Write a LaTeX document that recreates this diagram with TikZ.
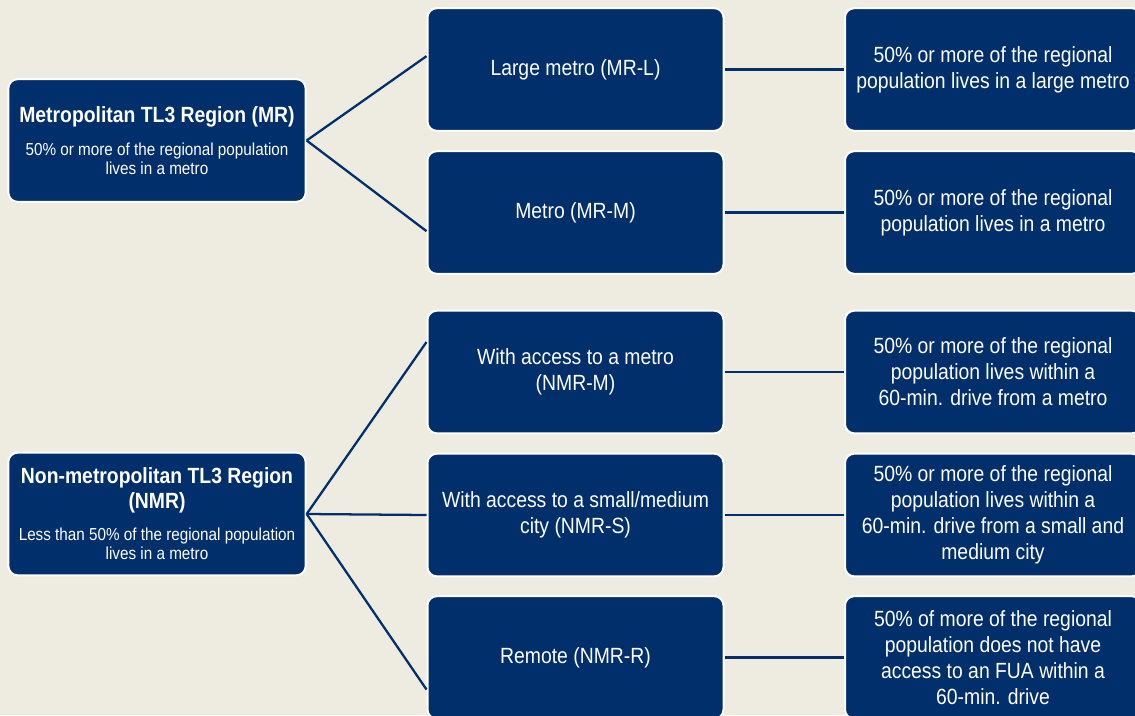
\documentclass[tikz,border=0pt]{standalone}
\usepackage{fontspec}
\setmainfont{Liberation Sans}[FakeStretch=0.88]
\usepackage{tikz}
\usetikzlibrary{positioning}
\definecolor{regionNavy}{RGB}{0,47,108}
\definecolor{paperBg}{RGB}{238,236,225}
\tikzstyle{regionNode}=[draw=white, fill=regionNavy, text=white, rounded corners=7pt, line width=1.5pt, minimum width=222pt, minimum height=92pt, align=center, inner sep=2pt]
\tikzstyle{typeNode}=[regionNode, font=\fontsize{16.5}{19.5}\selectfont]
\tikzstyle{topNode}=[regionNode, minimum width=223pt, font=\fontsize{13}{14.25}\selectfont]
\tikzstyle{branchLine}=[draw=regionNavy, line width=1.7pt]
\newcommand{\regionTitle}[1]{{\fontsize{16.5}{18.75}\selectfont\bfseries #1}}

\begin{document}
\begin{tikzpicture}[x=0.75pt, y=-0.75pt]

    \clip (0,0) rectangle (1135,715);
    \fill[paperBg] (0,0) rectangle (1135,715);

    % left column
    \node[topNode] (mr) at (157,140.5) {\regionTitle{Metropolitan TL3 Region (MR)}\\[10pt]50\% or more of the regional population\\lives in a metro};
    \node[topNode] (nmr) at (157,514) {\regionTitle{Non-metropolitan TL3 Region}\\[2pt]\regionTitle{(NMR)}\\[10pt]Less than 50\% of the regional population\\lives in a metro};

    % middle column
    \node[typeNode] (mrl) at (575.5,69.5) {Large metro (MR-L)};
    \node[typeNode] (mrm) at (575.5,212.5) {Metro (MR-M)};
    \node[typeNode] (nmrm) at (575.5,372) {With access to a metro\\(NMR-M)};
    \node[typeNode] (nmrs) at (575.5,515) {With access to a small/medium\\city (NMR-S)};
    \node[typeNode] (nmrr) at (575.5,657.5) {Remote (NMR-R)};

    % right column
    \node[typeNode] (mrlDef) at (993,69.5) {50\% or more of the regional\\population lives in a large metro};
    \node[typeNode] (mrmDef) at (993,212.5) {50\% or more of the regional\\population lives in a metro};
    \node[typeNode] (nmrmDef) at (993,372) {50\% or more of the regional\\population lives within a\\60-min. drive from a metro};
    \node[typeNode] (nmrsDef) at (993,515) {50\% or more of the regional\\population lives within a\\60-min. drive from a small and\\medium city};
    \node[typeNode] (nmrrDef) at (993,657.5) {50\% of more of the regional\\population does not have\\access to an FUA within a\\60-min. drive};

    \draw[branchLine] (mr.east) -- ([yshift=10pt]mrl.west);
    \draw[branchLine] (mr.east) -- ([yshift=-14pt]mrm.west);
    \draw[branchLine] (nmr.east) -- ([yshift=22.5pt]nmrm.west);
    \draw[branchLine] (nmr.east) -- (nmrs.west);
    \draw[branchLine] (nmr.east) -- ([yshift=-24pt]nmrr.west);
    \draw[branchLine] (mrl) -- (mrlDef);
    \draw[branchLine] (mrm) -- (mrmDef);
    \draw[branchLine] (nmrm) -- (nmrmDef);
    \draw[branchLine] (nmrs) -- (nmrsDef);
    \draw[branchLine] (nmrr) -- (nmrrDef);

  \end{tikzpicture}
\end{document}
